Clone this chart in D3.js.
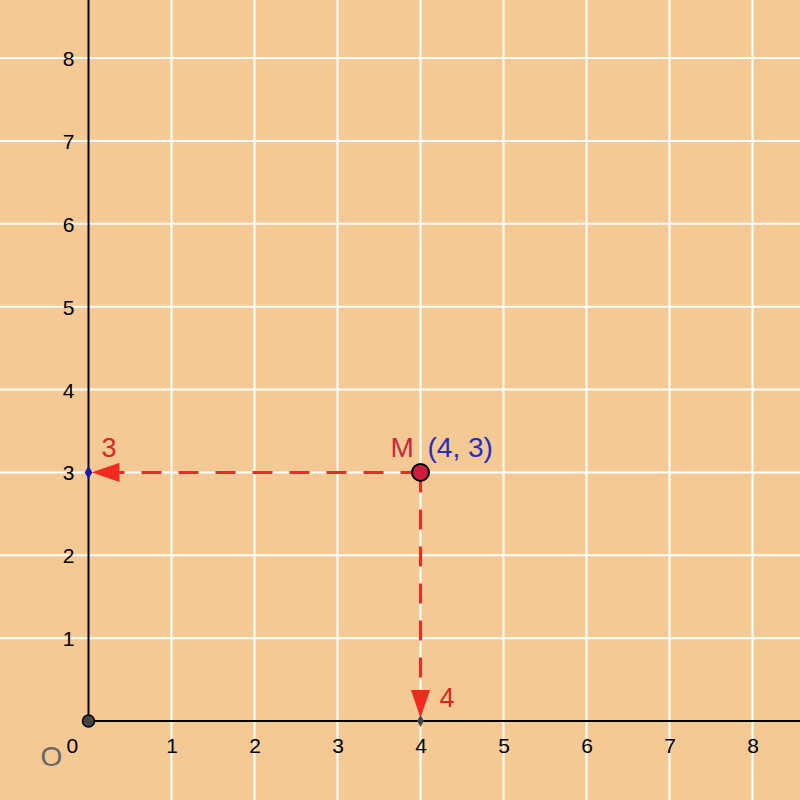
<!DOCTYPE html>
<html>
    <meta charset="utf-8">
    <head>
        <title>Point M coordinates</title>
        <script src="https://d3js.org/d3.v7.min.js"></script>
        <style>
            body { margin: 0; background: #F4C994; }
            text { font-family: "Liberation Sans", Arial, sans-serif; }
        </style>
    </head>
    <body>
        <div id="my_dataviz"></div>
    </body>
</html>
<script>
    // data
    var xTicks = [1, 2, 3, 4, 5, 6, 7, 8];
    var yTicks = [1, 2, 3, 4, 5, 6, 7, 8];
    var gridValues = [1, 2, 3, 4, 5, 6, 7, 8, 9];
    var pointM = [4, 3];
    var pointName = "M";
    var pointLabel = "(4, 3)";
    var projX = [4, 0];   // foot on x axis
    var projY = [0, 3];   // foot on y axis
    var projLabels = ["4", "3"];
    var origin = [0, 0];

    var width = 800, height = 800;

    var svg = d3.select("#my_dataviz")
    .append("svg")
        .attr("width", width)
        .attr("height", height);

    svg.append("rect")
        .attr("width", width)
        .attr("height", height)
        .attr("fill", "#F4C994");

    // scales: one unit ~ 83px
    var x = d3.scaleLinear().domain([0, 8]).range([88.5, 752.5]);
    var y = d3.scaleLinear().domain([0, 8]).range([721, 58]);

    // grid
    svg.selectAll("vgrid")
        .data(gridValues)
        .enter()
        .append("line")
            .attr("x1", function(d) { return x(d); })
            .attr("x2", function(d) { return x(d); })
            .attr("y1", 0)
            .attr("y2", height)
            .attr("stroke", "#ffffff")
            .attr("stroke-width", 2);
    svg.selectAll("hgrid")
        .data(gridValues)
        .enter()
        .append("line")
            .attr("y1", function(d) { return y(d); })
            .attr("y2", function(d) { return y(d); })
            .attr("x1", 0)
            .attr("x2", width)
            .attr("stroke", "#ffffff")
            .attr("stroke-width", 2);

    // axes (only positive part)
    svg.append("line")
        .attr("x1", x(0)).attr("y1", y(0))
        .attr("x2", width).attr("y2", y(0))
        .attr("stroke", "#000").attr("stroke-width", 2);
    svg.append("line")
        .attr("x1", x(0)).attr("y1", y(0))
        .attr("x2", x(0)).attr("y2", 0)
        .attr("stroke", "#000").attr("stroke-width", 2);

    // tick labels through d3 axes
    var xAxis = svg.append("g")
        .attr("transform", "translate(0," + y(0) + ")")
        .call(d3.axisBottom(x).tickValues(xTicks).tickSize(0).tickPadding(17));
    var yAxis = svg.append("g")
        .attr("transform", "translate(" + x(0) + ",0)")
        .call(d3.axisLeft(y).tickValues(yTicks).tickSize(0).tickPadding(14));
    svg.selectAll(".domain").remove();
    svg.selectAll(".tick text")
        .attr("font-family", "Liberation Sans, Arial, sans-serif")
        .attr("font-size", 21)
        .attr("fill", "#000");
    yAxis.selectAll(".tick text").attr("dy", "0.36em");

    // zero label and origin name
    svg.append("text")
        .attr("x", x(0) - 22).attr("y", y(0) + 32)
        .attr("font-size", 21)
        .text("0");
    svg.append("text")
        .attr("x", x(0) - 48).attr("y", y(0) + 45)
        .attr("font-size", 28)
        .attr("fill", "#666")
        .text("O");

    // arrow heads
    var defs = svg.append("defs");
    defs.append("marker")
        .attr("id", "head")
        .attr("viewBox", "0 0 10 10")
        .attr("refX", 10).attr("refY", 5)
        .attr("markerUnits", "userSpaceOnUse")
        .attr("markerWidth", 28).attr("markerHeight", 19)
        .attr("preserveAspectRatio", "none")
        .attr("orient", "auto")
        .append("path")
            .attr("d", "M0,0 L10,5 L0,10 Z")
            .attr("fill", "#F02A1E");

    // dashed projections
    var proj = [projY, projX];
    svg.selectAll("proj")
        .data(proj)
        .enter()
        .append("line")
            .attr("x1", x(pointM[0]))
            .attr("y1", y(pointM[1]))
            .attr("x2", function(d) { return x(d[0]) + (d[0] === 0 ? 3 : 0); })
            .attr("y2", function(d) { return y(d[1]) - (d[1] === 0 ? 3 : 0); })
            .attr("stroke", "#EE2A22")
            .attr("stroke-width", 3)
            .attr("stroke-dasharray", "20,17")
            .attr("marker-end", "url(#head)");

    // foot points
    svg.append("path")
        .attr("d", d3.symbol().type(d3.symbolDiamond).size(50)())
        .attr("transform", "translate(" + x(projY[0]) + "," + y(projY[1]) + ")")
        .attr("fill", "#1A1AA8");
    svg.append("path")
        .attr("d", d3.symbol().type(d3.symbolDiamond).size(40)())
        .attr("transform", "translate(" + x(projX[0]) + "," + y(projX[1]) + ")")
        .attr("fill", "#444");

    // projection labels
    svg.append("text")
        .attr("x", x(projY[0]) + 13).attr("y", y(projY[1]) - 15)
        .attr("font-size", 27).attr("fill", "#D42A20")
        .text(projLabels[1]);
    svg.append("text")
        .attr("x", x(projX[0]) + 19).attr("y", y(projX[1]) - 14)
        .attr("font-size", 27).attr("fill", "#D42A20")
        .text(projLabels[0]);

    // origin point
    svg.append("circle")
        .attr("cx", x(origin[0])).attr("cy", y(origin[1]))
        .attr("r", 6)
        .attr("fill", "#444")
        .attr("stroke", "#000").attr("stroke-width", 1.5);

    // point M
    svg.append("circle")
        .attr("cx", x(pointM[0])).attr("cy", y(pointM[1]))
        .attr("r", 8.5)
        .attr("fill", "#CC1F3F")
        .attr("stroke", "#000").attr("stroke-width", 2);
    svg.append("text")
        .attr("x", x(pointM[0]) - 30).attr("y", y(pointM[1]) - 15)
        .attr("font-size", 28).attr("fill", "#C8283C")
        .text(pointName);
    svg.append("text")
        .attr("x", x(pointM[0]) + 7).attr("y", y(pointM[1]) - 15)
        .attr("font-size", 28).attr("fill", "#2B2BBE")
        .text(pointLabel);
</script>
